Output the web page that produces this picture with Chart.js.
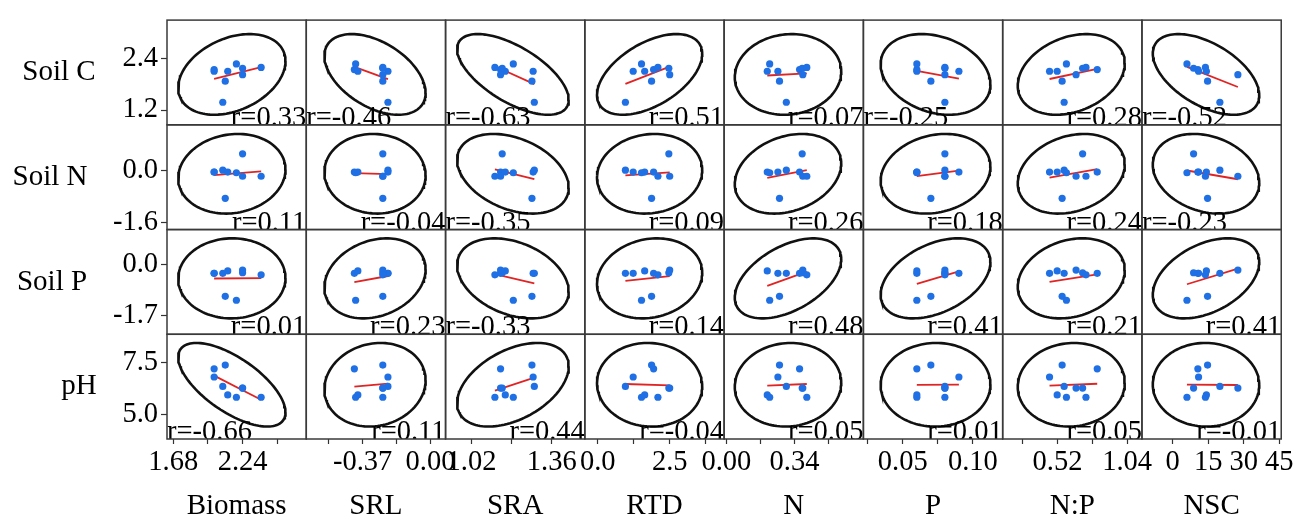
<!DOCTYPE html>
<html>
<head>
<meta charset="utf-8">
<script src="https://cdn.jsdelivr.net/npm/chart.js@4.4.0/dist/chart.umd.min.js"></script>
<style>
  body { margin: 0; background: #fff; }
</style>
</head>
<body>
<canvas id="matrix" width="1309" height="521"></canvas>
<script>
const FONT = '"Liberation Serif", "Times New Roman", serif';

const rowNames = ['Soil C', 'Soil N', 'Soil P', 'pH'];
const colNames = ['Biomass', 'SRL', 'SRA', 'RTD', 'N', 'P', 'N:P', 'NSC'];

// 9 samples, same order in every array
const soilC   = [2.14, 2.10, 1.38, 1.87, 2.10, 2.27, 2.17, 2.02, 2.19];
const soilN   = [-0.04, -0.04, 0.02, -0.86, -0.04, -0.06, 0.53, -0.17, -0.17];
const soilP   = [-0.29, -0.29, -0.29, -1.05, -0.21, -1.18, -0.27, -0.18, -0.34];
const pH      = [7.18, 6.79, 6.34, 7.36, 5.93, 5.82, 6.26, 6.26, 5.82];

const biomass = [2.01, 2.01, 2.08, 2.10, 2.12, 2.19, 2.24, 2.24, 2.39];
const srl     = [-0.415, -0.232, -0.232, -0.26, -0.396, -0.408, -0.26, -0.26, -0.26];
const sra     = [1.143, 1.281, 1.286, 1.276, 1.163, 1.197, 1.150, 1.143, 1.119];
const rtd     = [1.94, 1.23, 0.96, 1.87, 1.63, 1.52, 2.47, 2.50, 2.09];
const nConc   = [0.365, 0.257, 0.299, 0.265, 0.204, 0.216, 0.378, 0.381, 0.401];
const pConc   = [0.060, 0.090, 0.080, 0.070, 0.060, 0.060, 0.080, 0.080, 0.080];
const npRatio = [0.817, 0.461, 0.570, 0.555, 0.518, 0.587, 0.708, 0.659, 0.733];
const nsc     = [10.6, 10.9, 19.9, 14.7, 14.2, 6.0, 8.8, 27.5, 13.8];

const rowData = [soilC, soilN, soilP, pH];
const colData = [biomass, srl, sra, rtd, nConc, pConc, npRatio, nsc];

// correlation printed in each cell
const rValues = [
  [0.33, -0.46, -0.63, 0.51, 0.07, -0.25, 0.28, -0.52],
  [0.11, -0.04, -0.35, 0.09, 0.26, 0.18, 0.24, -0.23],
  [0.01, 0.23, -0.33, 0.14, 0.48, 0.41, 0.21, 0.41],
  [-0.66, 0.11, 0.44, -0.04, 0.05, 0.01, 0.05, -0.01]
];

// axes
const xMin = [1.629, -0.677, 0.910, -0.451, -0.011, 0.0219, 0.111, -13.0];
const xMax = [2.755, 0.082, 1.500, 4.392, 0.683, 0.1212, 1.151, 45.8];
const yMin = [0.856, -1.835, -2.305, 3.821];
const yMax = [3.288, 1.437, 1.159, 8.835];

const xTicks = [
  [1.68, 1.96, 2.24, 2.52], [-0.555, -0.37, -0.185, 0], [1.02, 1.19, 1.36], [0, 1.25, 2.5, 3.75],
  [0, 0.17, 0.34, 0.51], [0.025, 0.05, 0.075, 0.1], [0.26, 0.52, 0.78, 1.04], [0, 15, 30, 45]
];
const xTickText = [
  ['1.68', '', '2.24', ''], ['', '-0.37', '', '0.00'], ['1.02', '', '1.36'], ['0.0', '', '2.5', ''],
  ['0.00', '', '0.34', ''], ['', '0.05', '', '0.10'], ['', '0.52', '', '1.04'], ['0', '15', '30', '45']
];
const yTicks = [[2.4, 1.2], [0, -1.6], [0, -1.7], [7.5, 5.0]];
const yTickText = [['2.4', '1.2'], ['0.0', '-1.6'], ['0.0', '-1.7'], ['7.5', '5.0']];

const rowTitleX = [59, 50, 52, 79];
const K = 3.5; // ellipse size, in standard deviations

const mean = a => a.reduce((s, v) => s + v, 0) / a.length;
const sd = a => {
  const m = mean(a);
  return Math.sqrt(a.reduce((s, v) => s + (v - m) * (v - m), 0) / (a.length - 1));
};

let datasets = [];
rowNames.forEach((rn, i) => {
  colNames.forEach((cn, j) => {
    const xs = colData[j], ys = rowData[i], r = rValues[i][j];
    const mx = mean(xs), my = mean(ys), sx = sd(xs), sy = sd(ys);
    const axes = { xAxisID: 'x' + j, yAxisID: 'y' + i };

    // scatter points
    datasets.push({
      ...axes, order: 0,
      data: xs.map((x, k) => ({ x: x, y: ys[k] })),
      pointRadius: 3.6, pointBackgroundColor: '#1f6fe5', pointBorderWidth: 0
    });

    // fitted line
    const b = r * sy / sx;
    const lo = Math.min(...xs), hi = Math.max(...xs);
    datasets.push({
      ...axes, order: 1, showLine: true, pointRadius: 0,
      borderColor: '#e02424', borderWidth: 1.8,
      data: [{ x: lo, y: my + b * (lo - mx) }, { x: hi, y: my + b * (hi - mx) }]
    });

    // density ellipse
    let ell = [];
    for (let t = 0; t <= 120; t++) {
      const a = t / 120 * 2 * Math.PI;
      ell.push({
        x: mx + K * sx * Math.cos(a),
        y: my + K * sy * (r * Math.cos(a) + Math.sqrt(1 - r * r) * Math.sin(a))
      });
    }
    datasets.push({
      ...axes, order: 2, showLine: true, pointRadius: 0,
      borderColor: '#111', borderWidth: 2.6, data: ell
    });
  });
});

const scales = {};
// left boxes are laid out last-first, so define pH first and Soil C last
for (let i = rowNames.length - 1; i >= 0; i--) {
  scales['y' + i] = {
    type: 'linear', position: 'left', stack: 'rows', stackWeight: 1,
    min: yMin[i], max: yMax[i],
    afterBuildTicks: s => { s.ticks = yTicks[i].map(v => ({ value: v })); },
    afterFit: s => { s.width = 167; },
    ticks: {
      autoSkip: false, padding: 3, color: '#000',
      font: { family: FONT, size: 28.5 },
      callback: (v, k) => yTickText[i][k]
    },
    grid: { drawOnChartArea: false, tickLength: 6, tickColor: '#333', tickWidth: 1.2 },
    border: { display: false }
  };
}
colNames.forEach((cn, j) => {
  scales['x' + j] = {
    type: 'linear', position: 'bottom', stack: 'cols', stackWeight: 1,
    min: xMin[j], max: xMax[j],
    afterBuildTicks: s => { s.ticks = xTicks[j].map(v => ({ value: v })); },
    afterFit: s => { s.height = 82; },
    ticks: {
      autoSkip: false, maxRotation: 0, padding: 1, color: '#000',
      font: { family: FONT, size: 28.5 },
      callback: (v, k) => xTickText[j][k]
    },
    grid: { drawOnChartArea: false, tickLength: 5, tickColor: '#333', tickWidth: 1.2 },
    border: { display: false },
    title: {
      display: true, text: cn, color: '#000', padding: 0,
      font: { family: FONT, size: 29, lineHeight: 1 }
    }
  };
});

// cell frames, r labels and row names
const cellPlugin = {
  id: 'cells',
  afterDatasetsDraw(chart) {
    const ctx = chart.ctx;
    rowNames.forEach((rn, i) => {
      const ys = chart.scales['y' + i];
      colNames.forEach((cn, j) => {
        const xs = chart.scales['x' + j];
        const r = rValues[i][j];
        ctx.save();
        ctx.beginPath();
        ctx.rect(xs.left, ys.top, xs.right - xs.left, ys.bottom - ys.top);
        ctx.clip();
        ctx.font = '28.5px ' + FONT;
        ctx.fillStyle = '#000';
        ctx.textBaseline = 'alphabetic';
        const atLeft = r < -0.2;
        ctx.textAlign = atLeft ? 'left' : 'right';
        ctx.fillText('r=' + r.toFixed(2), atLeft ? xs.left : xs.right, ys.bottom + 1);
        ctx.restore();

        ctx.save();
        ctx.strokeStyle = '#3a3a3a';
        ctx.lineWidth = 1.5;
        ctx.strokeRect(xs.left, ys.top, xs.right - xs.left, ys.bottom - ys.top);
        ctx.restore();
      });
      ctx.save();
      ctx.font = '29px ' + FONT;
      ctx.fillStyle = '#000';
      ctx.textAlign = 'center';
      ctx.textBaseline = 'middle';
      ctx.fillText(rn, rowTitleX[i], (ys.top + ys.bottom) / 2);
      ctx.restore();
    });
  }
};

new Chart(document.getElementById('matrix'), {
  type: 'scatter',
  data: { datasets: datasets },
  options: {
    responsive: false,
    animation: false,
    devicePixelRatio: 1,
    events: [],
    layout: { padding: { left: 0, top: 13, right: 26, bottom: 0 } },
    scales: scales,
    plugins: { legend: { display: false }, tooltip: { enabled: false } }
  },
  plugins: [cellPlugin]
});
</script>
</body>
</html>
